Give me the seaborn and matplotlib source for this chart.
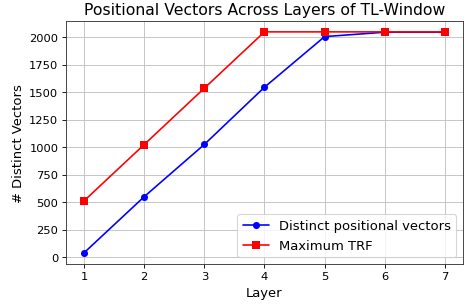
import matplotlib
matplotlib.use("Agg")
import matplotlib.pyplot as plt
import seaborn as sns
import pandas as pd

layers = [1, 2, 3, 4, 5, 6, 7]
distinct_vectors = [40, 550, 1025, 1545, 2005, 2045, 2045]
max_trf = [512, 1024, 1536, 2048, 2048, 2048, 2048]

df = pd.DataFrame({"Layer": layers, "distinct": distinct_vectors, "trf": max_trf})

sns.set_style("ticks")
plt.rcParams["font.family"] = ["DejaVu Sans"]
plt.rcParams["text.color"] = "black"
plt.rcParams["axes.labelcolor"] = "black"
plt.rcParams["xtick.color"] = "black"
plt.rcParams["ytick.color"] = "black"

fig, ax = plt.subplots(figsize=(6.0, 3.92), dpi=78.5)
sns.lineplot(data=df, x="Layer", y="distinct", ax=ax, color="blue", marker="o",
             markersize=6.5, markeredgewidth=0, label="Distinct positional vectors")
sns.lineplot(data=df, x="Layer", y="trf", ax=ax, color="red", marker="s",
             markersize=6.5, markeredgewidth=0, label="Maximum TRF")

ax.grid(True, color="#c0c0c0", linewidth=0.8)
for s in ax.spines.values():
    s.set_color("#333333")
ax.set_xlabel("Layer", fontsize=12)
ax.set_ylabel("# Distinct Vectors", fontsize=12)
ax.set_title("Positional Vectors Across Layers of TL-Window", fontsize=14.3)
ax.tick_params(labelsize=10.5)
ax.legend(loc="lower right", fontsize=12)

fig.subplots_adjust(left=0.14, right=0.983, top=0.93, bottom=0.14)
fig.savefig("out.png", dpi=78.5)
